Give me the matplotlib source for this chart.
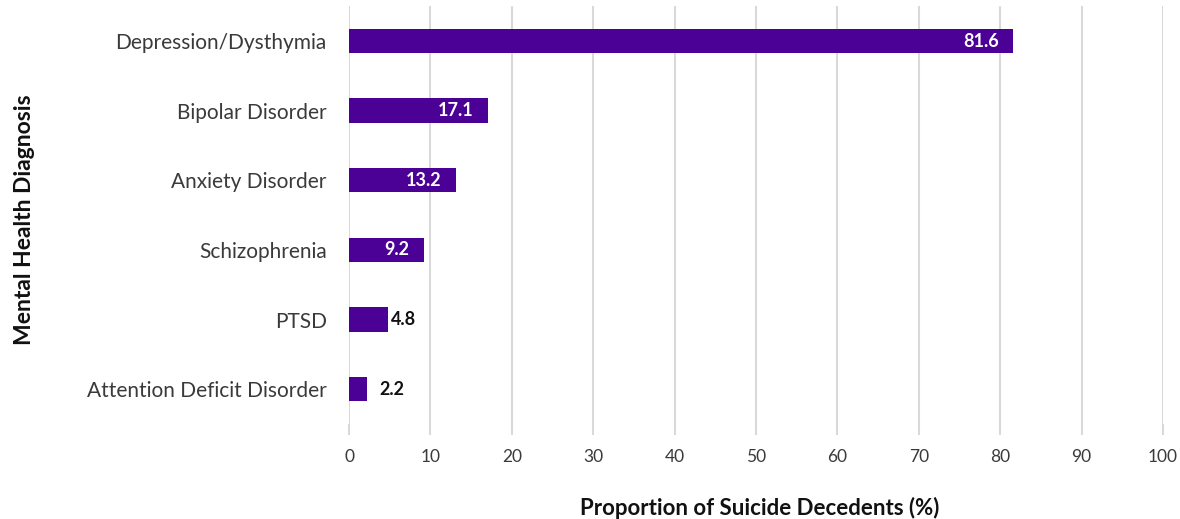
import matplotlib.pyplot as plt

# Mental health diagnoses among suicide decedents
diagnoses = ['Depression/Dysthymia', 'Bipolar Disorder', 'Anxiety Disorder',
             'Schizophrenia', 'PTSD', 'Attention Deficit Disorder']
proportions = [81.6, 17.1, 13.2, 9.2, 4.8, 2.2]

plt.rcParams['font.family'] = ['Lato', 'DejaVu Sans']
bar_color = '#4B0096'
text_color = '#3a3a3a'

fig = plt.figure(figsize=(11.8, 5.19), dpi=100)
ax = fig.add_axes([0.2958, 0.183, 0.6898, 0.805])

ypos = list(range(len(diagnoses)))[::-1]
bars = ax.barh(ypos, proportions, height=0.35, color=bar_color, zorder=3)

for bar, val in zip(bars, proportions):
    yc = bar.get_y() + bar.get_height() / 2
    if val > 8:
        ax.text(val - 1.8, yc, f'{val:.1f}', ha='right', va='center',
                color='white', fontsize=13, fontweight='bold', zorder=4)
    else:
        ax.text(val + 0.3 if val > 3 else val + 1.5, yc, f'{val:.1f}',
                ha='left', va='center', color='#111111', fontsize=13,
                fontweight='bold', zorder=4)

ax.set_xlim(0, 100)
ax.set_ylim(-0.5, len(diagnoses) - 0.5)
ax.set_xticks(range(0, 101, 10))
ax.set_yticks(ypos)
ax.set_yticklabels(diagnoses)
ax.grid(True, axis='x', color='#d9d9d9', linewidth=1.5, zorder=0)
for s in ax.spines.values():
    s.set_visible(False)
ax.tick_params(axis='y', length=0, pad=16, labelsize=15, labelcolor=text_color)
ax.tick_params(axis='x', length=8, width=1.5, color='#d9d9d9', pad=10,
               labelsize=12.5, labelcolor=text_color)

fig.text(0.644, 0.021, 'Proportion of Suicide Decedents (%)', ha='center',
         va='center', fontsize=16, fontweight='bold', color='#111111')
fig.text(0.021, 0.576, 'Mental Health Diagnosis', rotation=90, ha='center',
         va='center', fontsize=16.5, fontweight='bold', color='#111111')

fig.savefig('out.png', dpi=100)
